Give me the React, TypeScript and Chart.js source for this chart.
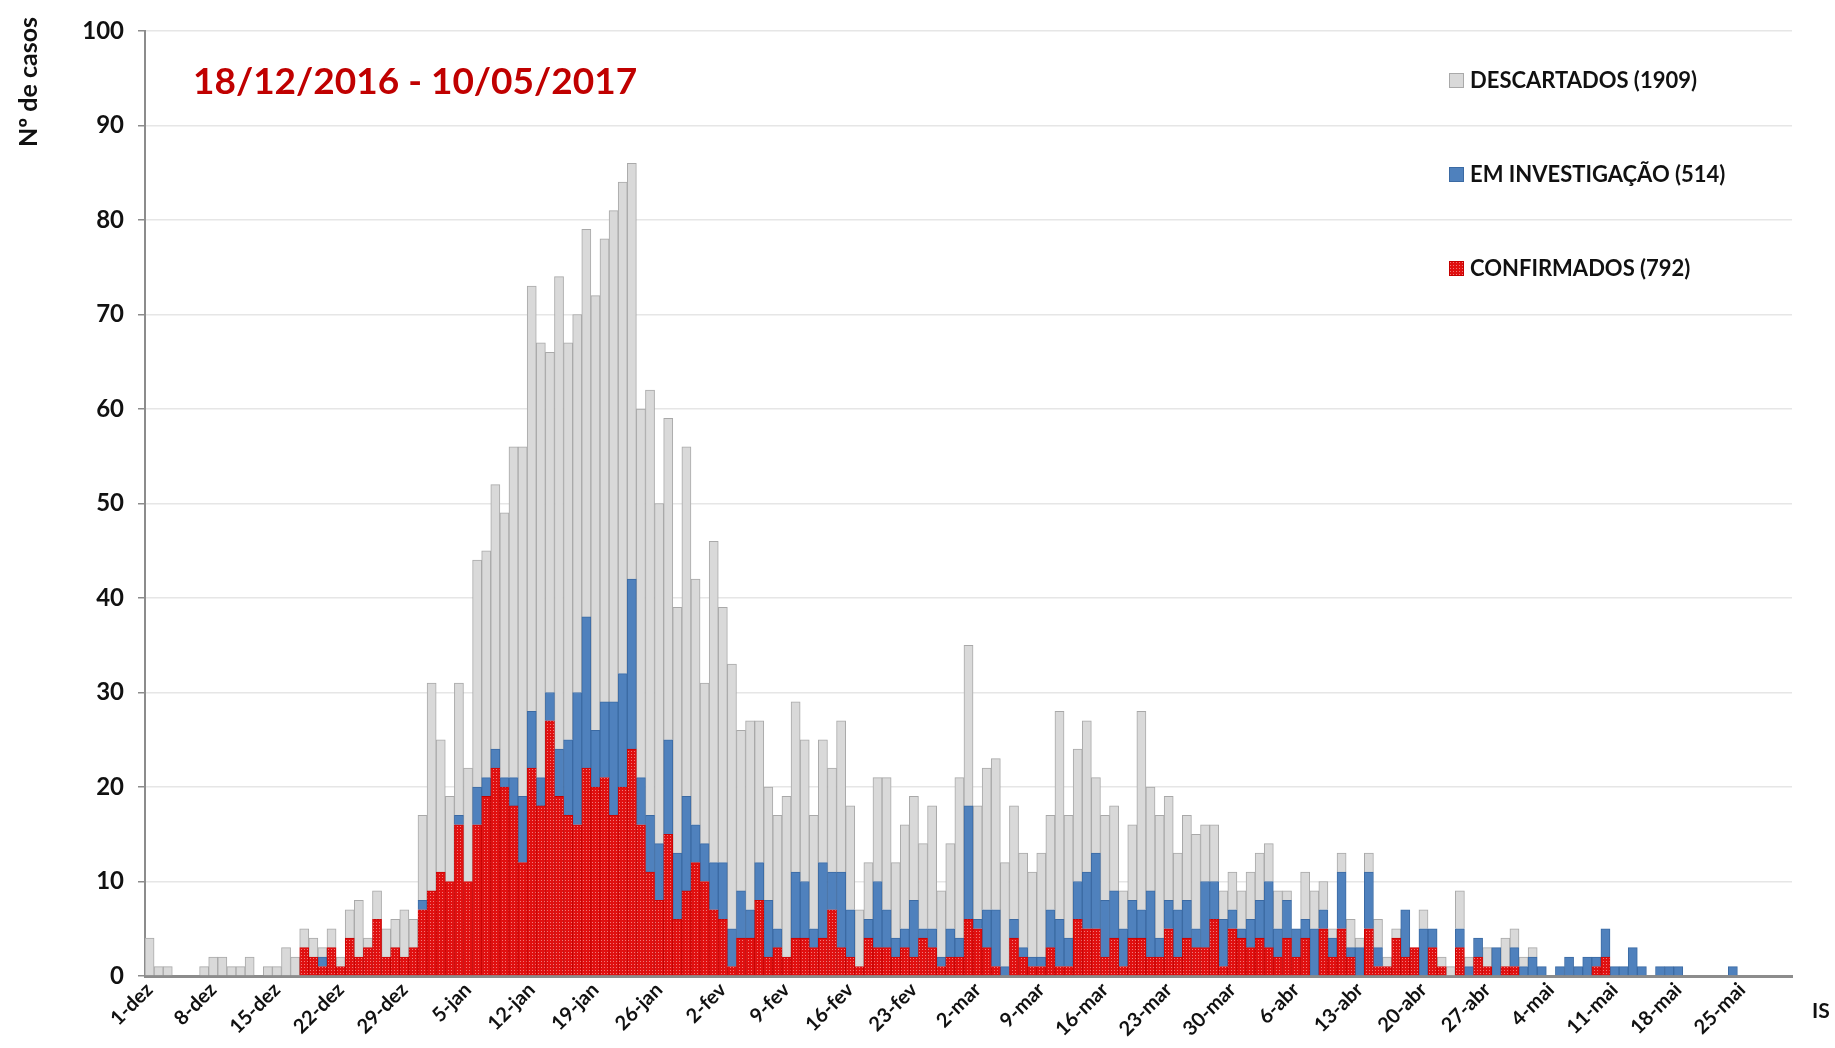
import React, { useEffect, useRef } from "react";
import { Chart, registerables } from "chart.js";

Chart.register(...registerables);

// Months of the period (name, number of days) -> one category per day, 1-dez .. 30-mai
const months: [string, number][] = [
  ["dez", 31],
  ["jan", 31],
  ["fev", 28],
  ["mar", 31],
  ["abr", 30],
  ["mai", 30],
];
const categories: string[] = [];
months.forEach(([m, n]) => {
  for (let d = 1; d <= n; d++) categories.push(`${d}-${m}`);
});

const seriesNames = ["DESCARTADOS (1909)", "EM INVESTIGAÇÃO (514)", "CONFIRMADOS (792)"];
const titleText = "18/12/2016 - 10/05/2017";
const yAxisTitle = "Nº de casos";
const yTicks = [0, 10, 20, 30, 40, 50, 60, 70, 80, 90, 100];

// CONFIRMADOS
const confirmados: number[] = [
  0, 0, 0, 0, 0, 0, 0, 0, 0, 0,
  0, 0, 0, 0, 0, 0, 0, 3, 2, 1,
  3, 1, 4, 2, 3, 6, 2, 3, 2, 3,
  7, 9, 11, 10, 16, 10, 16, 19, 22, 20,
  18, 12, 22, 18, 27, 19, 17, 16, 22, 20,
  21, 17, 20, 24, 16, 11, 8, 15, 6, 9,
  12, 10, 7, 6, 1, 4, 4, 8, 2, 3,
  2, 4, 4, 3, 4, 7, 3, 2, 1, 4,
  3, 3, 2, 3, 2, 4, 3, 1, 2, 2,
  6, 5, 3, 1, 0, 4, 2, 1, 1, 3,
  1, 1, 6, 5, 5, 2, 4, 1, 4, 4,
  2, 2, 5, 2, 4, 3, 3, 6, 1, 5,
  4, 3, 4, 3, 2, 4, 2, 4, 0, 5,
  2, 5, 2, 0, 5, 1, 1, 4, 2, 3,
  0, 3, 1, 0, 3, 0, 2, 1, 0, 1,
  1, 0, 0, 0, 0, 0, 0, 0, 0, 1,
  2, 0, 0, 0, 0, 0, 0, 0, 0, 0,
  0, 0, 0, 0, 0, 0, 0, 0, 0, 0,
  0,
];

// EM INVESTIGAÇÃO
const investigacao: number[] = [
  0, 0, 0, 0, 0, 0, 0, 0, 0, 0,
  0, 0, 0, 0, 0, 0, 0, 0, 0, 1,
  0, 0, 0, 0, 0, 0, 0, 0, 0, 0,
  1, 0, 0, 0, 1, 0, 4, 2, 2, 1,
  3, 7, 6, 3, 3, 5, 8, 14, 16, 6,
  8, 12, 12, 18, 5, 6, 6, 10, 7, 10,
  4, 4, 5, 6, 4, 5, 3, 4, 6, 2,
  0, 7, 6, 2, 8, 4, 8, 5, 0, 2,
  7, 4, 2, 2, 6, 1, 2, 1, 3, 2,
  12, 1, 4, 6, 1, 2, 1, 1, 1, 4,
  5, 3, 4, 6, 8, 6, 5, 4, 4, 3,
  7, 2, 3, 5, 4, 2, 7, 4, 5, 2,
  1, 3, 4, 7, 3, 4, 3, 2, 5, 2,
  2, 6, 1, 3, 6, 2, 0, 0, 5, 0,
  5, 2, 0, 0, 2, 1, 2, 0, 3, 0,
  2, 1, 2, 1, 0, 1, 2, 1, 2, 1,
  3, 1, 1, 3, 1, 0, 1, 1, 1, 0,
  0, 0, 0, 0, 1, 0, 0, 0, 0, 0,
  0,
];

// DESCARTADOS
const descartados: number[] = [
  4, 1, 1, 0, 0, 0, 1, 2, 2, 1,
  1, 2, 0, 1, 1, 3, 2, 2, 2, 1,
  2, 1, 3, 6, 1, 3, 3, 3, 5, 3,
  9, 22, 14, 9, 14, 12, 24, 24, 28, 28,
  35, 37, 45, 46, 36, 50, 42, 40, 41, 46,
  49, 52, 52, 44, 39, 45, 36, 34, 26, 37,
  26, 17, 34, 27, 28, 17, 20, 15, 12, 12,
  17, 18, 15, 12, 13, 11, 16, 11, 6, 6,
  11, 14, 8, 11, 11, 9, 13, 7, 9, 17,
  17, 12, 15, 16, 11, 12, 10, 9, 11, 10,
  22, 13, 14, 16, 8, 9, 9, 4, 8, 21,
  11, 13, 11, 6, 9, 10, 6, 6, 3, 4,
  4, 5, 5, 4, 4, 1, 0, 5, 4, 3,
  1, 2, 3, 1, 2, 3, 1, 1, 0, 0,
  2, 0, 1, 1, 4, 1, 0, 2, 0, 3,
  2, 1, 1, 0, 0, 0, 0, 0, 0, 0,
  0, 0, 0, 0, 0, 0, 0, 0, 0, 0,
  0, 0, 0, 0, 0, 0, 0, 0, 0, 0,
  0,
];

const FONT = "Lato, 'Open Sans', 'DejaVu Sans', sans-serif";
const GRAY = "#d9d9d9";
const GRAY_BORDER = "#a9a9a9";
const BLUE = "#4f81bd";
const BLUE_BORDER = "#3b6aa3";
const RED_BORDER = "#c40000";

function makeRedPattern(): CanvasPattern | string {
  const pc = document.createElement("canvas");
  pc.width = 3;
  pc.height = 3;
  const p = pc.getContext("2d");
  if (!p) return "#e01010";
  p.fillStyle = "#e01010";
  p.fillRect(0, 0, 3, 3);
  p.fillStyle = "#f07a7a";
  p.fillRect(1, 1, 1, 1);
  const pat = p.createPattern(pc, "repeat");
  return pat || "#e01010";
}

export default function App() {
  const canvasRef = useRef<HTMLCanvasElement | null>(null);

  useEffect(() => {
    let chart: Chart | null = null;
    let cancelled = false;

    const build = () => {
      if (cancelled || !canvasRef.current) return;
      const red = makeRedPattern();

      const overlay = {
        id: "overlay",
        afterDraw(c: Chart) {
          const ctx = c.ctx;
          ctx.save();
          // title
          ctx.fillStyle = "#c00000";
          ctx.font = `bold 37px ${FONT}`;
          ctx.textAlign = "left";
          ctx.textBaseline = "alphabetic";
          ctx.fillText(titleText, 193, 94);

          // y axis title
          ctx.save();
          ctx.translate(37, 82);
          ctx.rotate(-Math.PI / 2);
          ctx.fillStyle = "#111";
          ctx.font = `bold 25px ${FONT}`;
          ctx.textAlign = "center";
          ctx.textBaseline = "alphabetic";
          ctx.fillText(yAxisTitle, 0, 0);
          ctx.restore();

          // legend
          const rows = [80, 174, 268];
          const fills: (string | CanvasPattern)[] = [GRAY, BLUE, red];
          const borders = [GRAY_BORDER, BLUE_BORDER, RED_BORDER];
          ctx.font = `bold 22px ${FONT}`;
          ctx.textBaseline = "middle";
          ctx.textAlign = "left";
          for (let i = 0; i < 3; i++) {
            const y = rows[i];
            ctx.fillStyle = fills[i] as any;
            ctx.fillRect(1449, y - 7, 15, 15);
            ctx.strokeStyle = borders[i];
            ctx.lineWidth = 1;
            ctx.strokeRect(1449.5, y - 6.5, 14, 14);
            ctx.fillStyle = "#111";
            ctx.fillText(seriesNames[i], 1470, y + 1);
          }

          // cut-off text at bottom right
          ctx.font = `bold 21px ${FONT}`;
          ctx.textBaseline = "alphabetic";
          ctx.fillText("IS", 1812, 1018);
          ctx.restore();
        },
      };

      chart = new Chart(canvasRef.current, {
        type: "bar",
        data: {
          labels: categories,
          datasets: [
            {
              label: seriesNames[2],
              data: confirmados,
              backgroundColor: red as any,
              borderColor: RED_BORDER,
              borderWidth: 0.8,
              stack: "s",
            },
            {
              label: seriesNames[1],
              data: investigacao,
              backgroundColor: BLUE,
              borderColor: BLUE_BORDER,
              borderWidth: 1,
              stack: "s",
            },
            {
              label: seriesNames[0],
              data: descartados,
              backgroundColor: GRAY,
              borderColor: GRAY_BORDER,
              borderWidth: 1,
              stack: "s",
            },
          ],
        },
        options: {
          animation: false,
          responsive: false,
          maintainAspectRatio: false,
          layout: { padding: { top: 31, right: 43, bottom: 0, left: 0 } },
          datasets: {
            bar: { barPercentage: 1, categoryPercentage: 1 },
          },
          plugins: {
            legend: { display: false },
            tooltip: { enabled: false },
            title: { display: false },
          },
          scales: {
            x: {
              stacked: true,
              grid: { display: false, drawTicks: false },
              border: { display: true, color: "#8c8c8c", width: 3 },
              ticks: {
                autoSkip: false,
                minRotation: 45,
                maxRotation: 45,
                padding: 2,
                color: "#111",
                font: { family: FONT, size: 20, weight: "bold" },
                callback: (_v: any, i: number) => (i % 7 === 0 ? categories[i] : ""),
              },
              afterFit: (s: any) => {
                s.height = 72;
              },
            },
            y: {
              stacked: true,
              min: 0,
              max: 100,
              grid: {
                color: "#e6e6e6",
                lineWidth: 1.5,
                tickLength: 7,
                tickColor: "#8c8c8c",
              },
              border: { display: true, color: "#8c8c8c", width: 2 },
              ticks: {
                stepSize: 10,
                padding: 14,
                color: "#111",
                font: { family: FONT, size: 24, weight: "bold" },
                callback: (v: any) => (yTicks.includes(Number(v)) ? String(v) : ""),
              },
              afterFit: (s: any) => {
                s.width = 145;
              },
            },
          },
        },
        plugins: [overlay],
      });
    };

    const fontsReady = (document as any).fonts
      ? Promise.all([
          (document as any).fonts.load(`bold 20px Lato`),
          (document as any).fonts.load(`bold 40px Lato`),
        ]).catch(() => null)
      : Promise.resolve(null);
    fontsReady.then(build);

    return () => {
      cancelled = true;
      if (chart) chart.destroy();
    };
  }, []);

  return (
    <div style={{ position: "fixed", left: 0, top: 0, width: 1835, height: 1048, background: "#fff" }}>
      <canvas ref={canvasRef} width={1835} height={1048} style={{ width: 1835, height: 1048, display: "block" }} />
    </div>
  );
}
